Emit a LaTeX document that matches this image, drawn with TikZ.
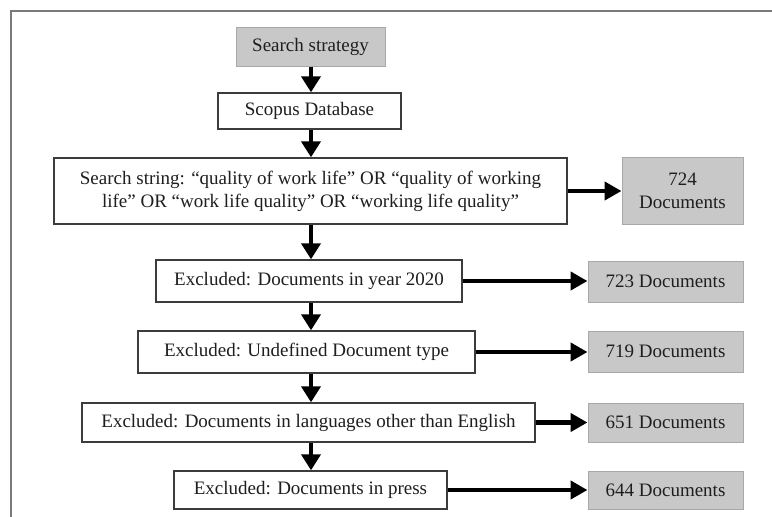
\documentclass[tikz,border=0pt]{standalone}
\usepackage{fontspec}
\setmainfont{Liberation Serif}
\usetikzlibrary{arrows.meta,calc}
\definecolor{txt}{HTML}{1E1E1E}
\definecolor{boxline}{HTML}{3C3C3C}
\definecolor{grayfill}{HTML}{C8C8C8}
\definecolor{grayline}{HTML}{A8A8A8}
\definecolor{frameline}{HTML}{7A7A7A}
\begin{document}
\begin{tikzpicture}[x=1pt,y=-1pt,
  base/.style={rectangle,inner sep=0pt,align=center,text=txt,
    font=\fontsize{19}{23}\selectfont},
  whitebox/.style={base,draw=boxline,line width=1.4pt,fill=white},
  graybox/.style={base,draw=grayline,line width=1pt,fill=grayfill},
  varrow/.style={line width=4.5pt,-{Triangle[width=19pt,length=16pt]}},
  harrow/.style={line width=4.5pt,-{Triangle[width=18pt,length=17pt]}}]
\useasboundingbox (0,0) rectangle (772,517);
\draw[frameline,line width=1.6pt] (11,517) -- (11,11) -- (772,11);
\coordinate (axis) at (311,0);
% main column
\node[graybox,minimum width=149pt,minimum height=39pt] (ss) at (310.5,46.5) {Search strategy};
\node[whitebox,minimum width=183pt,minimum height=36pt] (sc) at (309.5,111) {Scopus Database};
\node[whitebox,minimum width=513pt,minimum height=66pt] (str) at (310.5,191)
  {Search string: “quality of work life” OR “quality of working\\life” OR “work life quality” OR “working life quality”};
\node[whitebox,minimum width=306pt,minimum height=42pt] (e1) at (309,281) {Excluded: Documents in year 2020};
\node[whitebox,minimum width=337pt,minimum height=42pt] (e2) at (306.5,352) {Excluded: Undefined Document type};
\node[whitebox,minimum width=453pt,minimum height=39pt] (e3) at (308.5,422.5) {Excluded: Documents in languages other than English};
\node[whitebox,minimum width=273pt,minimum height=38pt] (e4) at (310.5,490) {Excluded: Documents in press};
% result column
\node[graybox,minimum width=121pt,minimum height=67pt] (r0) at (682.5,190.5) {724\\Documents};
\node[graybox,minimum width=155pt,minimum height=41pt] (r1) at (665.5,281.5) {723 Documents};
\node[graybox,minimum width=155pt,minimum height=41pt] (r2) at (665.5,351.5) {719 Documents};
\node[graybox,minimum width=155pt,minimum height=39pt] (r3) at (665.5,422.5) {651 Documents};
\node[graybox,minimum width=155pt,minimum height=38pt] (r4) at (665.5,490) {644 Documents};
% vertical arrows
\draw[varrow] (ss.south -| axis) -- (sc.north -| axis);
\draw[varrow] (sc.south -| axis) -- (str.north -| axis);
\draw[varrow] (str.south -| axis) -- (e1.north -| axis);
\draw[varrow] (e1.south -| axis) -- (e2.north -| axis);
\draw[varrow] (e2.south -| axis) -- (e3.north -| axis);
\draw[varrow] (e3.south -| axis) -- (e4.north -| axis);
% horizontal arrows
\draw[harrow] (str.east) -- (r0.west |- str.east);
\draw[harrow] (e1.east) -- (r1.west |- e1.east);
\draw[harrow] (e2.east) -- (r2.west |- e2.east);
\draw[harrow] (e3.east) -- (r3.west |- e3.east);
\draw[harrow] (e4.east) -- (r4.west |- e4.east);
\end{tikzpicture}
\end{document}
